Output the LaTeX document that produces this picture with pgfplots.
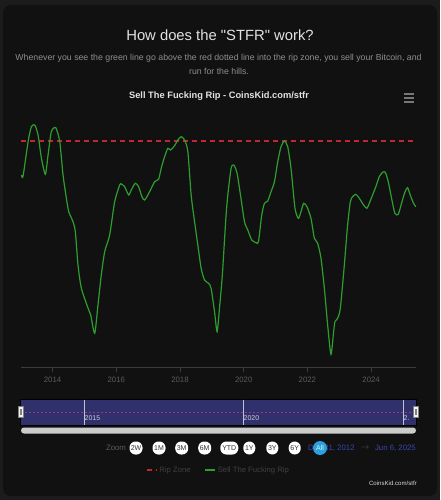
\documentclass[border=0pt]{standalone}
\usepackage{pgfplots}
\pgfplotsset{compat=1.18}
\usepackage{fontspec}
\setmainfont{Liberation Sans}
\newfontfamily\plainfont[Ligatures=TeXOff]{Liberation Sans}
\definecolor{outerbg}{HTML}{1C1C1C}
\definecolor{cardbg}{HTML}{111111}
\definecolor{titlec}{HTML}{E2E2E2}
\definecolor{subc}{HTML}{8E8E8E}
\definecolor{axisc}{HTML}{3C3C3C}
\definecolor{tickc}{HTML}{5C5C5C}
\definecolor{greenl}{HTML}{2E9E2E}
\definecolor{redl}{HTML}{C0282D}
\definecolor{navfill}{HTML}{30306C}
\definecolor{navpink}{HTML}{8C3C84}
\definecolor{datec}{HTML}{3A46B4}
\definecolor{allc}{HTML}{2AA0DC}
\definecolor{legc}{HTML}{404040}
\begin{document}
\begin{tikzpicture}[x=1pt,y=-1pt]
% background
\fill[outerbg] (0,0) rectangle (440,500);
\fill[cardbg, rounded corners=8pt] (3,5) rectangle (437,496);
% titles
\node[text=titlec, font=\plainfont\fontsize{14.8}{16}\selectfont] at (220,35) {How does the "STFR" work?};
\node[text=subc, font=\fontsize{8.75}{10}\selectfont] at (218.5,58) {Whenever you see the green line go above the red dotted line into the rip zone, you sell your Bitcoin, and};
\node[text=subc, font=\fontsize{8.75}{10}\selectfont] at (219,71) {run for the hills.};
\node[text=titlec, font=\bfseries\fontsize{9.3}{11}\selectfont] at (219,96) {Sell The Fucking Rip - CoinsKid.com/stfr};
% hamburger
\foreach \yy in {94,98,102} {\draw[color=subc!120, line width=1.6pt] (404,\yy) -- (414,\yy);}
\begin{axis}[
  at={(20.7pt,-367pt)}, anchor=south west,
  scale only axis, width=395.3pt, height=255pt,
  xmin=2013.0, xmax=2025.41, ymin=0, ymax=255,
  axis x line*=bottom, axis y line=none,
  ytick=\empty,
  xtick={2014,2016,2018,2020,2022,2024},
  xticklabels={2014,2016,2018,2020,2022,2024},
  tick align=outside, major tick length=5pt,
  x axis line style={color=axisc, line width=1pt},
  xtick style={color=axisc, line width=0.8pt},
  xticklabel style={text=tickc, font=\fontsize{7.8}{9}\selectfont, yshift=-2pt},
  legend style={at={(0.5,-0.404)}, anchor=center, draw=none, fill=none, text=legc,
    font=\fontsize{7.7}{9}\selectfont, legend columns=2,
    /tikz/every even column/.append style={column sep=12pt}},
  legend image code/.code={\draw[#1] (0pt,0pt) -- (10pt,0pt);},
  clip=false,
]
\addplot[redl, line width=1.6pt, dash pattern=on 5pt off 4pt] coordinates {(2013.0,226) (2025.41,226)};
\addlegendentry{Rip Zone}
\addplot[greenl, line width=1.2pt, smooth, tension=0.4] table {
x y
2013.022 192
2013.075 191
2013.232 225.3
2013.335 240.3
2013.442 242
2013.545 232
2013.649 209
2013.774 192.7
2013.859 212
2013.962 235.3
2014.100 239.3
2014.226 225.3
2014.329 192
2014.433 169
2014.508 155.3
2014.643 145.3
2014.715 135.3
2014.799 102
2014.903 79
2015.113 59
2015.197 52
2015.323 33.7
2015.426 62
2015.530 92
2015.636 115.3
2015.793 132
2015.950 165.3
2016.107 182
2016.157 183
2016.263 180.3
2016.389 172
2016.470 177
2016.596 183.7
2016.702 180.3
2016.806 170.3
2016.890 167
2017.047 175.3
2017.204 185.3
2017.329 187.7
2017.411 198.7
2017.517 210.3
2017.621 218.7
2017.705 217
2017.831 221.3
2017.934 227
2018.038 230.3
2018.144 227
2018.248 215.3
2018.351 172
2018.458 145.3
2018.561 122
2018.665 98.7
2018.771 87
2018.897 83.7
2018.978 78.7
2019.085 55.3
2019.166 35.3
2019.241 59
2019.292 77
2019.335 94
2019.398 127
2019.448 152
2019.502 172
2019.605 198.7
2019.690 202
2019.793 193.7
2019.900 172
2020.025 145.3
2020.129 137
2020.254 127
2020.389 124.3
2020.464 125.3
2020.567 152
2020.652 163.7
2020.755 166
2020.859 175.3
2020.966 185.3
2021.069 205.3
2021.172 220.3
2021.279 226
2021.382 220.3
2021.486 198.7
2021.611 158.7
2021.718 148.7
2021.799 155.3
2021.884 163.7
2021.987 160.3
2022.113 148.7
2022.219 128.7
2022.323 123.7
2022.426 109
2022.533 78.7
2022.636 42
2022.740 12.7
2022.824 35.3
2022.865 45.3
2022.950 48.7
2023.034 58.7
2023.160 102
2023.263 142
2023.348 165.3
2023.420 170.3
2023.524 172.7
2023.630 168.7
2023.765 162
2023.868 158.7
2023.944 163.7
2024.047 172
2024.150 180.3
2024.257 190.3
2024.361 194.7
2024.445 194.7
2024.539 185.3
2024.643 168.7
2024.746 153.7
2024.853 152.7
2024.956 163.7
2025.060 174.7
2025.144 179.3
2025.229 172
2025.332 163.7
2025.404 160.3
};
\addlegendentry{Sell The Fucking Rip}
\end{axis}
% navigator
\fill[navfill] (20.7,399.5) rectangle (416,425);
\draw[color=axisc!150, line width=0.6pt] (20.7,399.5) rectangle (416,425);
\draw[navpink, line width=0.6pt, dash pattern=on 2pt off 2pt] (21,412) -- (415.5,412);
\foreach \xx/\lab in {84/2015,243/2020} {
  \draw[color=white!70!navfill, line width=0.6pt] (\xx,399.5) -- (\xx,425);
  \node[anchor=west, inner sep=0.5pt, text=white!75!navfill, font=\fontsize{7}{8}\selectfont] at (\xx,418.5) {\lab};
}
\draw[color=white!70!navfill, line width=0.6pt] (403,399.5) -- (403,425);
\node[anchor=west, inner sep=0.5pt, text=white!75!navfill, font=\fontsize{7}{8}\selectfont] at (403,418.5) {2.};
% handles
\foreach \xx in {20.7,416} {
  \filldraw[fill=white!95!black, draw=gray, line width=0.4pt] (\xx-2.5,406.5) rectangle (\xx+2.5,417.5);
  \draw[gray, line width=0.3pt] (\xx-0.6,409) -- (\xx-0.6,415) (\xx+0.6,409) -- (\xx+0.6,415);
}
% scrollbar
\fill[white!80!black, rounded corners=3pt] (21,427.5) rectangle (416,433.5);
% range selector
\node[text=tickc, font=\fontsize{7.8}{9}\selectfont] at (116,448) {Zoom};
\node[anchor=west, text=datec, font=\fontsize{7.8}{9}\selectfont, inner sep=0pt] at (308,448) {Dec 31, 2012};
\node[text=legc!90, font=\fontsize{7.8}{9}\selectfont] at (365,448) {$\rightarrow$};
\node[anchor=east, text=datec, font=\fontsize{7.8}{9}\selectfont, inner sep=0pt] at (416,448) {Jun 6, 2025};
\foreach \xx/\lab/\w in {136/2W/13,159/1M/13,181.7/3M/13,204.7/6M/13,229.3/YTD/18,249.3/1Y/12,272.3/3Y/12,294.7/6Y/12} {
  \fill[white, rounded corners=6pt] (\xx-\w/2,441.5) rectangle (\xx+\w/2,454.5);
  \node[text=black!80, font=\fontsize{7}{8}\selectfont] at (\xx,448) {\lab};
}
\fill[allc] (320,448) circle (7pt);
\node[text=white!85!allc, font=\fontsize{7}{8}\selectfont] at (320,448) {All};
% credits
\node[anchor=east, text=white!85!black, font=\fontsize{6.1}{7}\selectfont, inner sep=0pt] at (417,483) {CoinsKid.com/stfr};
\end{tikzpicture}
\end{document}
